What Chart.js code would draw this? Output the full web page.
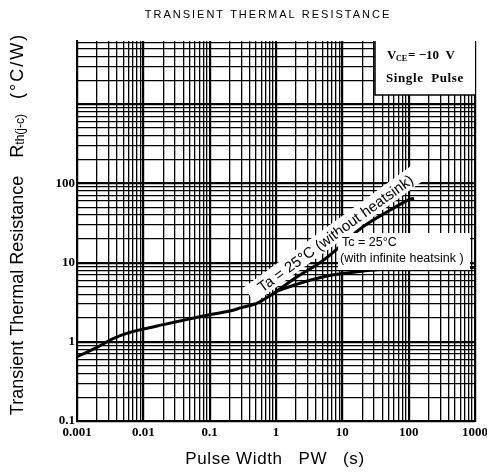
<!DOCTYPE html>
<html>
<head>
<meta charset="utf-8">
<script src="https://cdn.jsdelivr.net/npm/chart.js@4.4.0/dist/chart.umd.min.js"></script>
<style>
  html, body { margin: 0; padding: 0; background: #fff; }
  #wrap { width: 487px; height: 476px; }
</style>
</head>
<body>
<div id="wrap"><canvas id="thermalChart" width="487" height="476"></canvas></div>
<script>
// Datos (escala log-log)
const pulseWidthTa = [0.001, 0.002, 0.0035, 0.006, 0.01, 0.02, 0.05, 0.1, 0.2, 0.3, 0.5, 0.7, 1, 2, 5, 10, 20, 50, 100, 120];
const rthTa = [0.65, 0.85, 1.1, 1.3, 1.45, 1.65, 1.95, 2.2, 2.45, 2.7, 3.05, 3.55, 4.3, 6.5, 10.5, 17, 28, 45, 62, 65];
const pulseWidthTc = [1, 2, 5, 10, 30, 100, 1000];
const rthTc = [4.3, 5.3, 6.6, 7.3, 8.1, 8.5, 8.7];

const xTickLabels = [0.001, 0.01, 0.1, 1, 10, 100, 1000];
const yTickLabels = [0.1, 1, 10, 100];

const serif = "'Liberation Serif', 'DejaVu Serif', serif";
const sans = "'Liberation Sans', Arial, sans-serif";

function isDecade(v) {
    const l = Math.log10(v);
    return Math.abs(l - Math.round(l)) < 1e-9;
}

function logTicks(minExp, maxExp, maxValue) {
    const t = [];
    for (let e = minExp; e <= maxExp; e++) {
        for (let m = 1; m <= 9; m++) {
            const v = parseFloat((m * Math.pow(10, e)).toPrecision(6));
            if (v <= maxValue) t.push({ value: v });
        }
    }
    return t;
}

// Textos y recuadros sobre el gráfico
const labelsPlugin = {
    id: 'labels',
    afterDatasetsDraw(chart) {
        const ctx = chart.ctx;

        // Etiqueta Ta girada
        ctx.save();
        ctx.translate(336, 234);
        ctx.rotate(-36 * Math.PI / 180);
        ctx.fillStyle = '#fff';
        ctx.fillRect(-106, -11, 212, 19);
        ctx.fillStyle = '#000';
        ctx.font = '15px ' + sans;
        ctx.textAlign = 'center';
        ctx.textBaseline = 'middle';
        ctx.fillText('Ta = 25°C (without heatsink)', 0, 0);
        ctx.restore();

        // Recuadro Tc
        ctx.save();
        ctx.fillStyle = '#fff';
        ctx.fillRect(338, 233, 132, 37);
        ctx.fillStyle = '#000';
        ctx.font = '12.5px ' + sans;
        ctx.textBaseline = 'middle';
        ctx.fillText('Tc = 25°C', 342, 243);
        ctx.fillText('(with infinite heatsink )', 340, 259);
        ctx.restore();

        // Recuadro VCE
        ctx.save();
        ctx.fillStyle = '#fff';
        ctx.fillRect(375, 41, 100, 54);
        ctx.strokeStyle = '#000';
        ctx.lineWidth = 1.5;
        ctx.beginPath();
        ctx.moveTo(375, 41);
        ctx.lineTo(375, 95);
        ctx.lineTo(475, 95);
        ctx.stroke();
        ctx.fillStyle = '#000';
        ctx.textBaseline = 'middle';
        ctx.font = 'bold 13px ' + serif;
        ctx.fillText('V', 387, 56);
        ctx.font = 'bold 8px ' + serif;
        ctx.fillText('CE', 396, 59);
        ctx.font = 'bold 13px ' + serif;
        ctx.fillText('= \u221210  V', 408, 56);
        ctx.letterSpacing = '0.6px';
        ctx.fillText('Single  Pulse', 386, 79);
        ctx.restore();

        // Título superior
        ctx.save();
        ctx.fillStyle = '#000';
        ctx.font = '11px ' + sans;
        ctx.letterSpacing = '2px';
        ctx.textAlign = 'center';
        ctx.textBaseline = 'middle';
        ctx.fillText('TRANSIENT THERMAL RESISTANCE', 268, 15);
        ctx.restore();

        // Título eje X
        ctx.save();
        ctx.fillStyle = '#000';
        ctx.font = '17px ' + sans;
        ctx.letterSpacing = '0.6px';
        ctx.textAlign = 'center';
        ctx.textBaseline = 'middle';
        ctx.fillText('Pulse Width   PW   (s)', 275, 459);
        ctx.restore();

        // Título eje Y con subíndice
        ctx.save();
        ctx.translate(18, 224);
        ctx.rotate(-Math.PI / 2);
        ctx.fillStyle = '#000';
        ctx.textBaseline = 'middle';
        const p1 = 'Transient Thermal Resistance';
        const pR = 'R';
        const p2 = 'th(j-c)';
        const p3 = '(°C/W)';
        const gap1 = 18, gap2 = 15;
        ctx.font = '18px ' + sans;
        const w1 = ctx.measureText(p1).width;
        const wR = ctx.measureText(pR).width;
        ctx.letterSpacing = '2px';
        const w3 = ctx.measureText(p3).width;
        ctx.letterSpacing = '0px';
        ctx.font = '12px ' + sans;
        const w2 = ctx.measureText(p2).width;
        let cx = -(w1 + gap1 + wR + w2 + gap2 + w3) / 2;
        ctx.font = '18px ' + sans;
        ctx.fillText(p1, cx, 0);
        cx += w1 + gap1;
        ctx.fillText(pR, cx, 0);
        cx += wR;
        ctx.font = '12px ' + sans;
        ctx.fillText(p2, cx, 3);
        cx += w2 + gap2;
        ctx.font = '18px ' + sans;
        ctx.letterSpacing = '2px';
        ctx.fillText(p3, cx, 0);
        ctx.restore();
    }
};

const gridWidth = (c) => (c.tick && isDecade(c.tick.value)) ? 2.2 : 1.3;

new Chart(document.getElementById('thermalChart'), {
    type: 'line',
    data: {
        datasets: [
            {
                label: 'Ta = 25°C',
                data: pulseWidthTa.map((v, i) => ({ x: v, y: rthTa[i] })),
                borderColor: '#000',
                borderWidth: 3,
                pointRadius: 0,
                tension: 0.4,
                fill: false
            },
            {
                label: 'Tc = 25°C',
                data: pulseWidthTc.map((v, i) => ({ x: v, y: rthTc[i] })),
                borderColor: '#000',
                borderWidth: 3,
                pointRadius: 0,
                tension: 0.4,
                fill: false
            }
        ]
    },
    options: {
        responsive: false,
        animation: false,
        layout: { padding: { top: 41, right: 12, left: 0, bottom: 0 } },
        plugins: {
            legend: { display: false },
            tooltip: { enabled: false }
        },
        scales: {
            x: {
                type: 'logarithmic',
                min: 0.001,
                max: 1000,
                afterBuildTicks: (scale) => { scale.ticks = logTicks(-3, 3, 1000); },
                afterFit: (scale) => {
                    scale.height = 55;
                    scale.paddingLeft = 0;
                    scale.paddingRight = 0;
                },
                ticks: {
                    autoSkip: false,
                    maxRotation: 0,
                    padding: 4,
                    color: '#000',
                    font: { family: serif, size: 13, weight: 'bold' },
                    callback: (value) => xTickLabels.some(t => Math.abs(t - value) / t < 1e-6) ? String(value) : ''
                },
                grid: { color: '#000', lineWidth: gridWidth, drawTicks: false },
                border: { color: '#000', width: 2 }
            },
            y: {
                type: 'logarithmic',
                min: 0.1,
                max: 6300,
                afterBuildTicks: (scale) => { scale.ticks = logTicks(-1, 3, 6300); },
                afterFit: (scale) => {
                    scale.width = 77;
                    scale.paddingTop = 0;
                    scale.paddingBottom = 0;
                },
                ticks: {
                    autoSkip: false,
                    padding: 2,
                    color: '#000',
                    font: { family: serif, size: 13, weight: 'bold' },
                    callback: (value) => yTickLabels.some(t => Math.abs(t - value) / t < 1e-6) ? String(value) : ''
                },
                grid: { color: '#000', lineWidth: gridWidth, drawTicks: false },
                border: { color: '#000', width: 2 }
            }
        }
    },
    plugins: [labelsPlugin]
});
</script>
</body>
</html>
